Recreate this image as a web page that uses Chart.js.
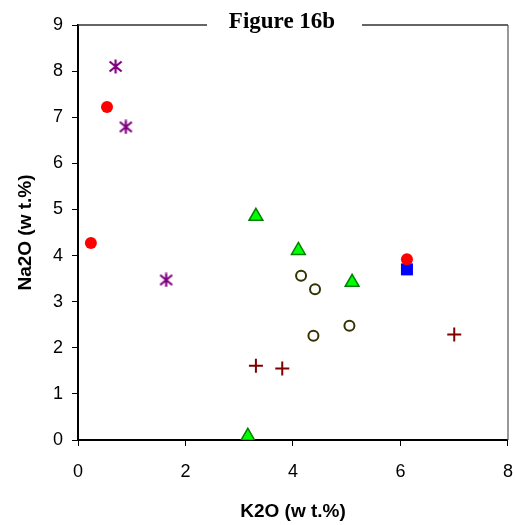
<!DOCTYPE html>
<html>
<head>
<meta charset="utf-8">
<title>Figure 16b</title>
<script src="https://cdn.jsdelivr.net/npm/chart.js@4.4.1/dist/chart.umd.min.js"></script>
<style>
  html, body { margin: 0; padding: 0; background: #fff; }
  #wrap { width: 515px; height: 525px; }
</style>
</head>
<body>
<div id="wrap"><canvas id="myChart" width="515" height="525"></canvas></div>
<script>
// K2O / Na2O pairs, one array per sample group
const redDots   = [{x: 0.24, y: 4.27}, {x: 0.54, y: 7.22}, {x: 6.12, y: 3.92}];
const blueBox   = [{x: 6.12, y: 3.70}];
const greenTri  = [{x: 3.31, y: 4.85}, {x: 4.10, y: 4.11}, {x: 5.10, y: 3.42}, {x: 3.16, y: 0.08}];
const openRings = [{x: 4.15, y: 3.56}, {x: 4.41, y: 3.27}, {x: 4.38, y: 2.26}, {x: 5.05, y: 2.48}];
const plusMarks = [{x: 3.31, y: 1.61}, {x: 3.80, y: 1.55}, {x: 7.00, y: 2.29}];
const starMarks = [{x: 0.70, y: 8.10}, {x: 0.89, y: 6.79}, {x: 1.64, y: 3.47}];

const xTicks = [0, 2, 4, 6, 8];
const yTicks = [0, 1, 2, 3, 4, 5, 6, 7, 8, 9];

// asterisk marker: an X with a vertical bar through it
function makeStar(color){
    const c = document.createElement('canvas');
    c.width = 15; c.height = 15;
    const g = c.getContext('2d');
    g.strokeStyle = color;
    g.lineWidth = 2.2;
    g.beginPath();
    g.moveTo(7.5, 0.5); g.lineTo(7.5, 14.5);
    g.moveTo(1.5, 2.5); g.lineTo(13.5, 12.5);
    g.moveTo(13.5, 2.5); g.lineTo(1.5, 12.5);
    g.stroke();
    return c;
}

// frame on top/right plus the title sitting in a gap of the top line
const framePlugin = {
    id: 'frame',
    afterDraw(chart){
        const {ctx, chartArea: a} = chart;
        ctx.save();
        ctx.strokeStyle = '#333333';
        ctx.lineWidth = 1.5;
        ctx.beginPath();
        ctx.moveTo(a.left, a.top); ctx.lineTo(207, a.top);
        ctx.moveTo(362, a.top); ctx.lineTo(a.right, a.top);
        ctx.stroke();
        ctx.strokeStyle = '#555555';
        ctx.lineWidth = 1.2;
        ctx.beginPath();
        ctx.moveTo(a.right, a.top); ctx.lineTo(a.right, a.bottom);
        ctx.stroke();
        ctx.fillStyle = '#000';
        ctx.font = 'bold 23px "Liberation Serif", "Times New Roman", serif';
        ctx.textAlign = 'center';
        ctx.textBaseline = 'alphabetic';
        ctx.fillText('Figure 16b', 282, 28);
        ctx.restore();
    }
};

const ctx = document.getElementById('myChart');
const myChart = new Chart(ctx, {
    type: 'scatter',
    data: {
        datasets: [
            {
                data: redDots,
                pointStyle: 'circle',
                pointRadius: 6,
                backgroundColor: '#ff0000',
                borderColor: '#ff0000',
                borderWidth: 0
            },
            {
                data: blueBox,
                pointStyle: 'rect',
                pointRadius: 8.5,
                backgroundColor: '#0000ff',
                borderColor: '#0000ff',
                borderWidth: 0
            },
            {
                data: greenTri,
                pointStyle: 'triangle',
                pointRadius: 8,
                backgroundColor: '#00ff00',
                borderColor: '#008000',
                borderWidth: 1.5
            },
            {
                data: openRings,
                pointStyle: 'circle',
                pointRadius: 5,
                backgroundColor: '#ffffff',
                borderColor: '#333300',
                borderWidth: 2
            },
            {
                data: plusMarks,
                pointStyle: 'cross',
                pointRadius: 7,
                borderColor: '#800000',
                borderWidth: 2
            },
            {
                data: starMarks,
                pointStyle: makeStar('#800080'),
                pointRadius: 7,
                borderColor: '#800080'
            }
        ]
    },
    options: {
        responsive: false,
        animation: false,
        layout: { autoPadding: false, padding: { top: 25, right: 7, left: 0, bottom: 0 } },
        plugins: {
            legend: { display: false },
            tooltip: { enabled: false }
        },
        scales: {
            x: {
                type: 'linear',
                min: 0, max: 8,
                afterFit: s => { s.height = 85; },
                afterBuildTicks: s => { s.ticks = xTicks.map(v => ({value: v})); },
                border: { display: true, color: '#000', width: 2 },
                grid: { drawOnChartArea: false, drawTicks: true, tickLength: 6, color: '#000', lineWidth: 1 },
                // small padding keeps the right edge in place; the tall line box pushes labels down
                ticks: { color: '#000', padding: 2, font: { family: '"Liberation Sans", Arial, sans-serif', size: 18, lineHeight: 2.67 } },
                title: {
                    display: true,
                    text: 'K2O (w t.%)',
                    color: '#000',
                    padding: { top: 0, bottom: 2 },
                    font: { family: '"Liberation Sans", Arial, sans-serif', size: 19, weight: 'bold' }
                }
            },
            y: {
                type: 'linear',
                min: 0, max: 9,
                afterFit: s => { s.width = 78; },
                afterBuildTicks: s => { s.ticks = yTicks.map(v => ({value: v})); },
                border: { display: true, color: '#000', width: 2 },
                grid: { drawOnChartArea: false, drawTicks: true, tickLength: 6, color: '#000', lineWidth: 1 },
                ticks: { color: '#000', padding: 9, font: { family: '"Liberation Sans", Arial, sans-serif', size: 18 } },
                title: {
                    display: true,
                    text: 'Na2O (w t.%)',
                    color: '#000',
                    padding: { top: 14, bottom: 0 },
                    font: { family: '"Liberation Sans", Arial, sans-serif', size: 19, weight: 'bold' }
                }
            }
        }
    },
    plugins: [framePlugin]
});
</script>
</body>
</html>
